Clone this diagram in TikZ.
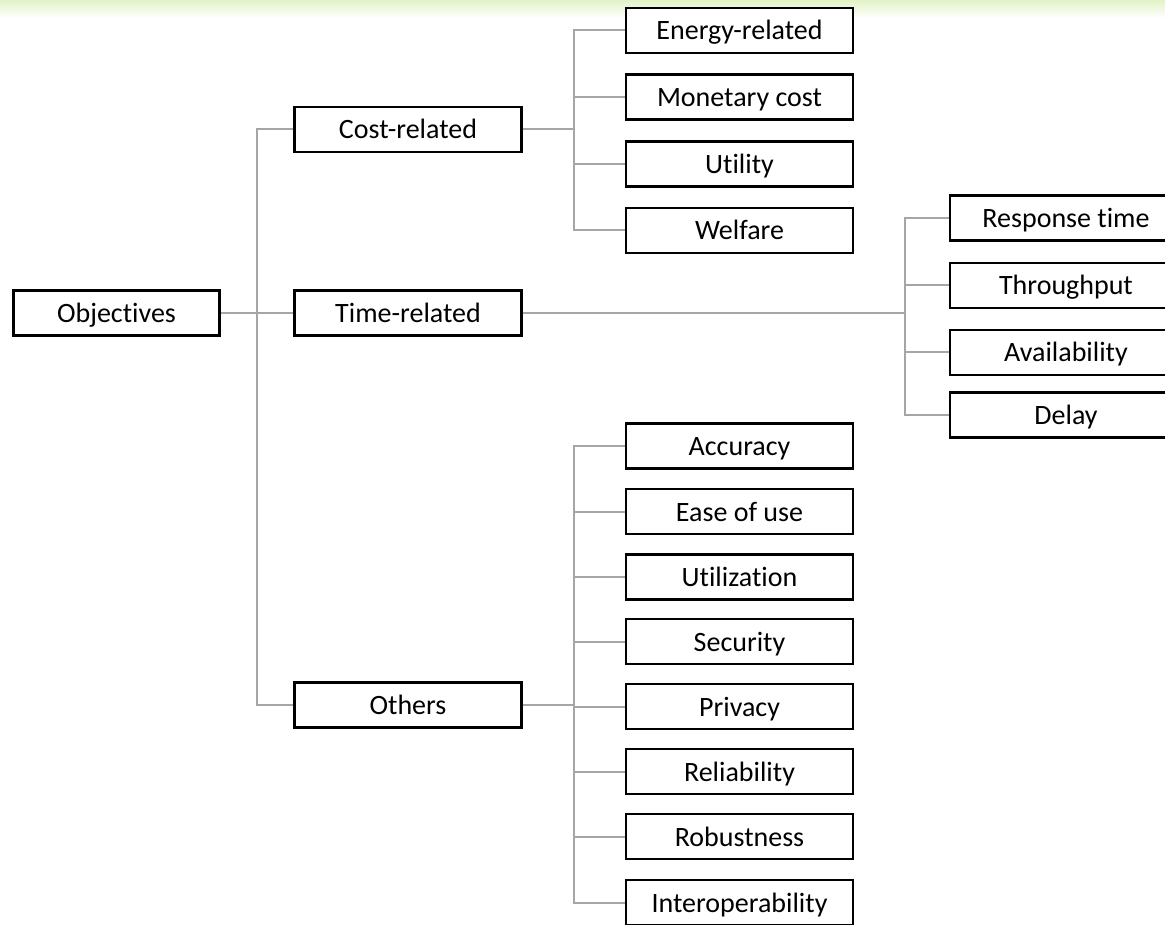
\documentclass[tikz,border=0pt]{standalone}
\usepackage{fontspec}
\setmainfont[Ligatures={NoCommon}]{Carlito}
\definecolor{conngray}{HTML}{A6A6A6}
\definecolor{topgreen}{HTML}{E2F3C6}
\begin{document}
\begin{tikzpicture}[x=1pt,y=-1pt,
  box/.style={draw=black, line width=2.6pt, fill=white, inner sep=0pt,
    minimum width=227pt, minimum height=45pt,
    text height=19pt, text depth=0pt,
    font=\fontsize{28}{30}\selectfont},
  rootbox/.style={box, minimum width=206pt},
  conn/.style={draw=conngray, line width=2pt}]
\useasboundingbox (0,0) rectangle (1165,925);
\clip (0,0) rectangle (1165,925);
\fill[white] (0,0) rectangle (1165,925);
% soft green band along the top edge
\shade[top color=topgreen, bottom color=white] (0,0) rectangle (1165,18);

% root and first level
\node[rootbox] (obj) at (116.5,313) {Objectives};
\node[box] (cost) at (408,129.5) {Cost-related};
\node[box] (time) at (408,313) {Time-related};
\node[box] (oth) at (408,705) {Others};

% cost-related leaves
\node[box] (c1) at (739.5,30.5) {Energy-related};
\node[box] (c2) at (739.5,97) {Monetary cost};
\node[box] (c3) at (739.5,164) {Utility};
\node[box] (c4) at (739.5,230.5) {Welfare};

% time-related leaves
\node[box, minimum width=232pt] (t1) at (1066,218) {Response time};
\node[box, minimum width=232pt] (t2) at (1066,285.5) {Throughput};
\node[box, minimum width=232pt] (t3) at (1066,352.5) {Availability};
\node[box, minimum width=232pt] (t4) at (1066,415) {Delay};

% other leaves
\node[box] (o1) at (739.5,446) {Accuracy};
\node[box] (o2) at (739.5,511.5) {Ease of use};
\node[box] (o3) at (739.5,577) {Utilization};
\node[box] (o4) at (739.5,641.5) {Security};
\node[box] (o5) at (739.5,706.5) {Privacy};
\node[box] (o6) at (739.5,771.5) {Reliability};
\node[box] (o7) at (739.5,836.5) {Robustness};
\node[box] (o8) at (739.5,902.5) {Interoperability};

% branching points
\coordinate (rb) at (257,313);
\coordinate (cb) at (574,129.5);
\coordinate (tb) at (905,313);
\coordinate (ob) at (574,705);

% connectors
\draw[conn] (obj.east) -- (time.west);
\draw[conn] (cost.west) -| (rb) |- (oth.west);
\draw[conn] (cost.east) -- (cb);
\foreach \n in {c1,c2,c3,c4} \draw[conn] (cb) |- (\n.west);
\draw[conn] (time.east) -- (tb);
\foreach \n in {t1,t2,t3,t4} \draw[conn] (tb) |- (\n.west);
\draw[conn] (oth.east) -- (ob);
\foreach \n in {o1,o2,o3,o4,o5,o6,o7,o8} \draw[conn] (ob) |- (\n.west);
\end{tikzpicture}
\end{document}
